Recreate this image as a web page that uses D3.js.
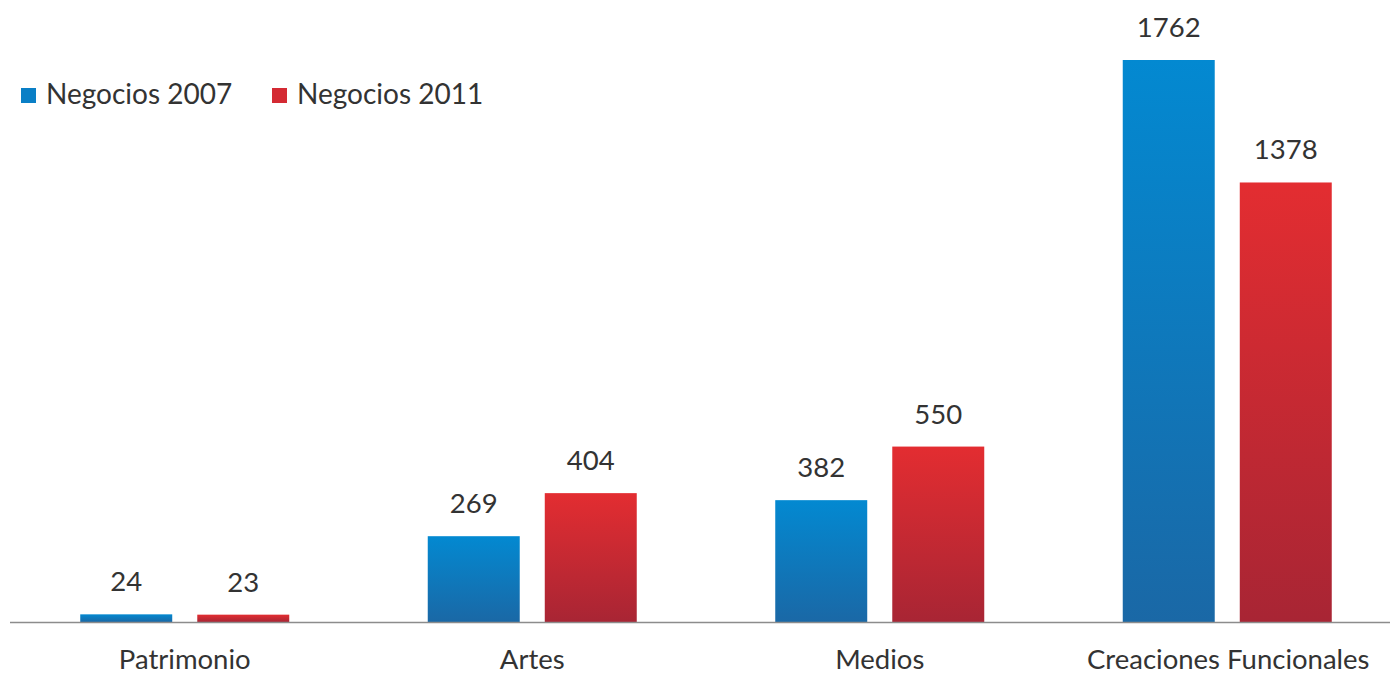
<!DOCTYPE html>
<html>
<head>
<meta charset="utf-8">
<script src="https://cdn.jsdelivr.net/npm/d3@7/dist/d3.min.js"></script>
<style>
  html, body { margin: 0; padding: 0; background: #fff; }
  svg { display: block; }
  text { font-family: Lato, "Open Sans", sans-serif; fill: #333; }
</style>
</head>
<body>
<svg id="chart" width="1390" height="675"></svg>
<script>
// Number of cultural businesses by sector, 2007 vs 2011
const categories = ["Patrimonio", "Artes", "Medios", "Creaciones Funcionales"];
const seriesNames = ["Negocios 2007", "Negocios 2011"];
const values2007 = [24, 269, 382, 1762];
const values2011 = [23, 404, 550, 1378];

const baseY = 622;

const svg = d3.select("#chart");

// gradients: bright at the top of each bar, darker at its base
const defs = svg.append("defs");
const grads = [
  { id: "g2007", top: "#0389d1", bottom: "#1a68a6" },
  { id: "g2011", top: "#e32d31", bottom: "#a82534" }
];
grads.forEach(g => {
  const lg = defs.append("linearGradient")
    .attr("id", g.id).attr("x1", 0).attr("y1", 0).attr("x2", 0).attr("y2", 1);
  lg.append("stop").attr("offset", "0%").attr("stop-color", g.top);
  lg.append("stop").attr("offset", "100%").attr("stop-color", g.bottom);
});

const x = d3.scaleBand().domain(categories).range([11, 1401]).paddingInner(0).paddingOuter(0);
const xs = d3.scaleBand().domain(seriesNames).range([0, 209]).paddingInner(0.214);
const y = d3.scaleLinear().domain([0, d3.max(values2007.concat(values2011))]).range([baseY, 60]);

const rows = categories.map((c, i) => ({
  cat: c,
  vals: [
    { s: seriesNames[0], v: values2007[i], fill: "url(#g2007)" },
    { s: seriesNames[1], v: values2011[i], fill: "url(#g2011)" }
  ]
}));

const groups = svg.append("g").selectAll("g").data(rows).join("g")
  .attr("transform", d => `translate(${x(d.cat) + x.bandwidth() / 2 - 104.5},0)`);

groups.selectAll("rect").data(d => d.vals).join("rect")
  .attr("x", d => xs(d.s))
  .attr("width", xs.bandwidth())
  .attr("y", d => y(d.v))
  .attr("height", d => baseY - y(d.v))
  .attr("fill", d => d.fill);

groups.selectAll("text.val").data(d => d.vals).join("text")
  .attr("class", "val")
  .attr("x", d => xs(d.s) + xs.bandwidth() / 2)
  .attr("y", d => y(d.v) - 23)
  .attr("text-anchor", "middle")
  .style("font-size", "27.5px")
  .text(d => d.v);

// category axis
const axis = svg.append("g").attr("transform", `translate(0,${baseY})`)
  .call(d3.axisBottom(x).tickSize(0));
axis.select(".domain").attr("d", "M10,0.5H1390").attr("stroke", "#8c8c8c").attr("stroke-width", 1.5);
axis.selectAll(".tick text")
  .style("font-size", "27.5px")
  .style("font-family", "Lato, 'Open Sans', sans-serif")
  .attr("fill", "#333")
  .attr("y", 47)
  .attr("dy", 0);
axis.selectAll(".tick").filter(d => d === "Creaciones Funcionales")
  .select("text").attr("x", 1);

// legend
const legend = svg.append("g");
const legendItems = [
  { name: seriesNames[0], color: "#0a7fc6", x: 21 },
  { name: seriesNames[1], color: "#d42a33", x: 272 }
];
legendItems.forEach(l => {
  legend.append("rect").attr("x", l.x).attr("y", 88).attr("width", 15).attr("height", 15).attr("fill", l.color);
  legend.append("text").attr("x", l.x + 25).attr("y", 104)
    .style("font-size", "28px").text(l.name);
});
</script>
</body>
</html>
